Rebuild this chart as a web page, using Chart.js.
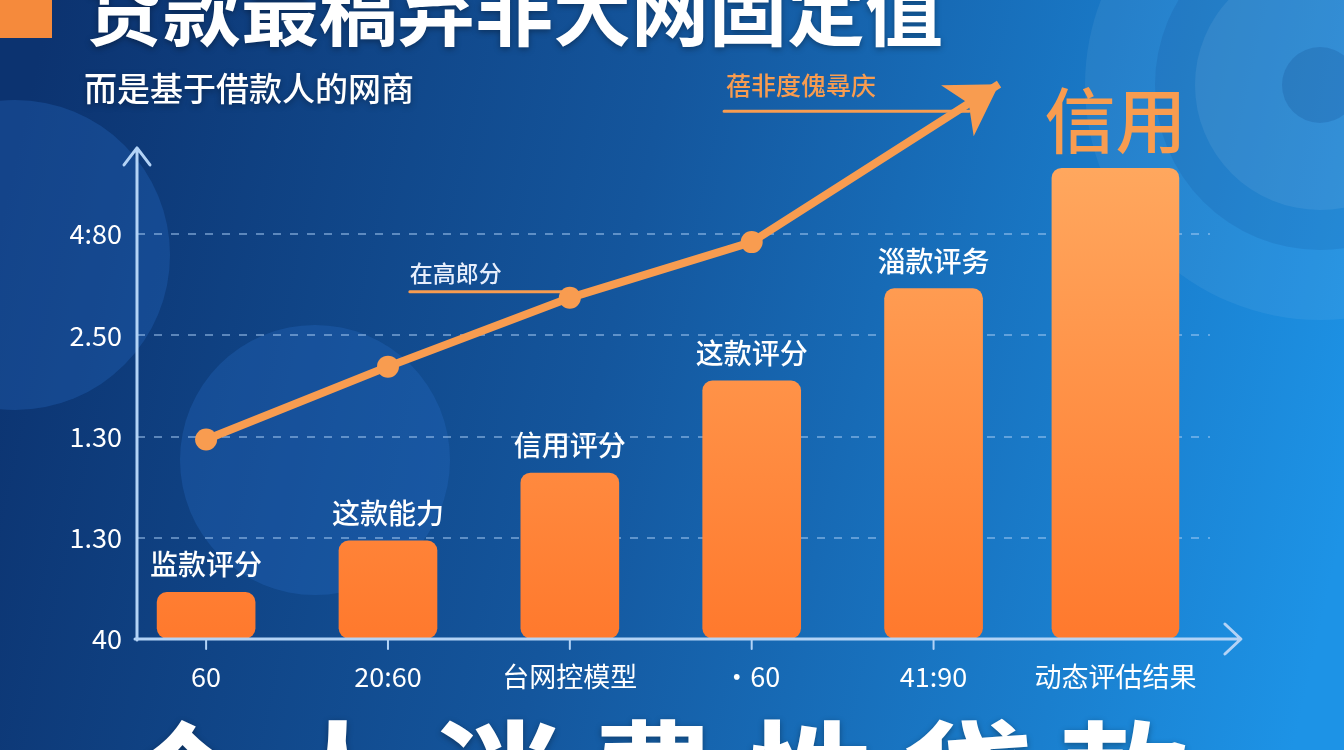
<!DOCTYPE html>
<html>
<head>
<meta charset="utf-8">
<script src="https://cdn.jsdelivr.net/npm/chart.js@4.4.0/dist/chart.umd.min.js"></script>
<style>
  html, body { margin: 0; padding: 0; background: #0e3a78; overflow: hidden; }
  #wrap { width: 1344px; height: 750px; }
</style>
</head>
<body>
<div id="wrap"><canvas id="c" width="1344" height="750"></canvas></div>
<script>
const categories = ['60', '20:60', '台网控模型', '•60', '41:90', '动态评估结果']
const barValues = [0.46, 0.97, 1.64, 2.55, 3.46, 4.65]
const barLabels = ['监款评分', '这款能力', '信用评分', '这款评分', '淄款评务', '信用']
const trendX = [0, 1, 2, 3, 4.36]
const trendValues = [1.97, 2.69, 3.37, 3.92, 5.48]
const yTickValues = [0, 1, 2, 3, 4]
const yTickLabels = ['40', '1.30', '1.30', '2.50', '4:80']
const titleText = '贷款最稿弃非大网固定值'
const subtitleText = '而是基于借款人的网商'
const trendNote = '在高郎分'
const arrowNote = '蓓非度傀尋庆'
const footerText = '个人消费性贷款'

const FONT = '"Noto Sans CJK SC", "Noto Sans", sans-serif'
const ORANGE = '#f89c50'
const AXIS = '#b3d3f6'

const disc = (ctx, x, y, r, fill) => {
  ctx.beginPath()
  ctx.arc(x, y, r, 0, Math.PI * 2)
  ctx.fillStyle = fill
  ctx.fill()
}

// background + soft circles
const backdrop = {
  id: 'backdrop',
  beforeDraw(chart) {
    const { ctx, width, height } = chart
    ctx.save()
    const g = ctx.createLinearGradient(0, height * 0.3, width, height * 0.7)
    g.addColorStop(0, '#0c3370')
    g.addColorStop(0.45, '#14569d')
    g.addColorStop(1, '#1d93e6')
    ctx.fillStyle = g
    ctx.fillRect(0, 0, width, height)

    disc(ctx, 15, 255, 155, 'rgba(40,110,200,0.30)')
    disc(ctx, 315, 460, 135, 'rgba(40,110,200,0.30)')

    disc(ctx, 1320, 85, 235, 'rgba(255,255,255,0.06)')
    disc(ctx, 1320, 85, 165, 'rgba(0,40,110,0.10)')
    disc(ctx, 1320, 85, 125, 'rgba(255,255,255,0.07)')
    disc(ctx, 1320, 85, 38, 'rgba(0,40,110,0.15)')
    ctx.restore()
  }
}

const overlay = {
  id: 'overlay',
  afterDraw(chart) {
    const { ctx, chartArea, scales: { x, y } } = chart
    ctx.save()

    // axes with arrow heads
    const ax = chartArea.left
    const ay = y.getPixelForValue(0)
    const yTop = y.getPixelForValue(4.85)
    const xEnd = x.getPixelForValue(5.69)
    ctx.strokeStyle = AXIS
    ctx.lineWidth = 3
    ctx.lineCap = 'round'
    ctx.lineJoin = 'round'
    ctx.beginPath()
    ctx.moveTo(ax, ay + 1)
    ctx.lineTo(ax, yTop)
    ctx.moveTo(ax - 13, yTop + 17)
    ctx.lineTo(ax, yTop)
    ctx.lineTo(ax + 13, yTop + 17)
    ctx.moveTo(ax - 2, ay)
    ctx.lineTo(xEnd, ay)
    ctx.moveTo(xEnd - 16, ay - 15)
    ctx.lineTo(xEnd, ay)
    ctx.lineTo(xEnd - 16, ay + 15)
    ctx.stroke()
    ctx.lineWidth = 2
    for (let i = 0; i < 5; i++) {
      const tx = x.getPixelForValue(i)
      ctx.beginPath()
      ctx.moveTo(tx, ay)
      ctx.lineTo(tx, ay + 10)
      ctx.stroke()
    }

    // arrow head at end of trend line
    const pts = chart.getDatasetMeta(0).data
    const end = pts[pts.length - 1]
    const prev = pts[pts.length - 2]
    const ang = Math.atan2(prev.y - end.y, prev.x - end.x)
    const len = 58, spread = 0.55
    ctx.fillStyle = ORANGE
    ctx.beginPath()
    ctx.moveTo(end.x, end.y)
    ctx.lineTo(end.x + len * Math.cos(ang - spread), end.y + len * Math.sin(ang - spread))
    ctx.lineTo(end.x + len * 0.62 * Math.cos(ang), end.y + len * 0.62 * Math.sin(ang))
    ctx.lineTo(end.x + len * Math.cos(ang + spread), end.y + len * Math.sin(ang + spread))
    ctx.closePath()
    ctx.fill()

    // notes on the trend line
    const mid = pts[2]
    ctx.strokeStyle = ORANGE
    ctx.lineWidth = 3
    ctx.beginPath()
    ctx.moveTo(mid.x - 160, mid.y - 6)
    ctx.lineTo(mid.x - 4, mid.y - 6)
    ctx.moveTo(end.x - 275, end.y + 27)
    ctx.lineTo(end.x - 30, end.y + 27)
    ctx.stroke()

    ctx.textBaseline = 'alphabetic'
    ctx.textAlign = 'left'
    ctx.fillStyle = '#e6eefc'
    ctx.font = `500 23px ${FONT}`
    ctx.fillText(trendNote, mid.x - 160, mid.y - 25 + 9)
    ctx.fillStyle = ORANGE
    ctx.font = `500 25px ${FONT}`
    ctx.fillText(arrowNote, end.x - 273, end.y + 2 + 9)

    // labels above the bars
    ctx.textAlign = 'center'
    barLabels.forEach((lbl, i) => {
      const bx = x.getPixelForValue(i)
      const by = y.getPixelForValue(barValues[i])
      if (i === barLabels.length - 1) {
        ctx.fillStyle = ORANGE
        ctx.font = `500 71px ${FONT}`
        ctx.fillText(lbl, bx, by - 21)
      } else {
        ctx.fillStyle = '#ffffff'
        ctx.font = `500 28px ${FONT}`
        ctx.fillText(lbl, bx, by - 17)
      }
    })

    // title block
    ctx.fillStyle = '#f58a3c'
    ctx.fillRect(0, 0, 52, 38)
    ctx.textAlign = 'left'
    ctx.fillStyle = '#ffffff'
    ctx.shadowColor = 'rgba(0,0,0,0.35)'
    ctx.shadowBlur = 6
    ctx.shadowOffsetY = 2
    ctx.font = `bold 78px ${FONT}`
    ctx.fillText(titleText, 85, 40)
    ctx.font = `500 33px ${FONT}`
    ctx.fillText(subtitleText, 84, 101)

    ctx.font = `bold 130px ${FONT}`
    ctx.letterSpacing = '27px'
    ctx.fillText(footerText, 117, 830)
    ctx.restore()
  }
}

const barFill = (c) => {
  const { chart } = c
  const area = chart.chartArea
  if (!area) return ORANGE
  const g = chart.ctx.createLinearGradient(0, area.top + 90, 0, area.bottom)
  g.addColorStop(0, '#ffa85f')
  g.addColorStop(1, '#ff792d')
  return g
}

new Chart(document.getElementById('c'), {
  data: {
    datasets: [
      {
        type: 'line',
        data: trendX.map((v, i) => ({ x: v, y: trendValues[i] })),
        borderColor: ORANGE,
        borderWidth: 8,
        pointRadius: (c) => (c.dataIndex === trendX.length - 1 ? 0 : 11),
        pointBackgroundColor: ORANGE,
        pointBorderWidth: 0,
        tension: 0,
        clip: false
      },
      {
        type: 'bar',
        data: barValues.slice(0, 5).map((v, i) => ({ x: i, y: v })),
        backgroundColor: barFill,
        borderRadius: 10,
        borderSkipped: false,
        barThickness: 98,
        grouped: false
      },
      {
        type: 'bar',
        data: [{ x: 5, y: barValues[5] }],
        backgroundColor: barFill,
        borderRadius: 10,
        borderSkipped: false,
        barThickness: 127,
        grouped: false
      }
    ]
  },
  options: {
    responsive: false,
    animation: false,
    events: [],
    layout: { padding: { left: 67, right: 134, top: 70, bottom: 51 } },
    plugins: { legend: { display: false }, tooltip: { enabled: false } },
    scales: {
      x: {
        type: 'linear',
        offset: false,
        min: -0.38,
        max: 5.52,
        grid: { display: false, drawTicks: false },
        border: { display: false },
        afterBuildTicks: (s) => { s.ticks = categories.map((c, i) => ({ value: i })) },
        afterFit: (s) => { s.height = 60 },
        ticks: {
          autoSkip: false,
          maxRotation: 0,
          padding: 22,
          color: '#ffffff',
          font: { family: FONT, size: 27 },
          callback: (v) => categories[v] ?? ''
        }
      },
      y: {
        min: 0,
        max: 5.62,
        afterBuildTicks: (s) => { s.ticks = yTickValues.map((v) => ({ value: v })) },
        afterFit: (s) => { s.width = 70 },
        grid: {
          color: (c) => (c.tick && c.tick.value === 0 ? 'rgba(0,0,0,0)' : 'rgba(170,205,245,0.5)'),
          lineWidth: 2,
          drawTicks: false
        },
        border: { display: false, dash: [8, 9] },
        ticks: {
          padding: 15,
          color: '#ffffff',
          font: { family: FONT, size: 27 },
          callback: (v) => yTickLabels[yTickValues.indexOf(v)] ?? ''
        }
      }
    }
  },
  plugins: [backdrop, overlay]
})
</script>
</body>
</html>
